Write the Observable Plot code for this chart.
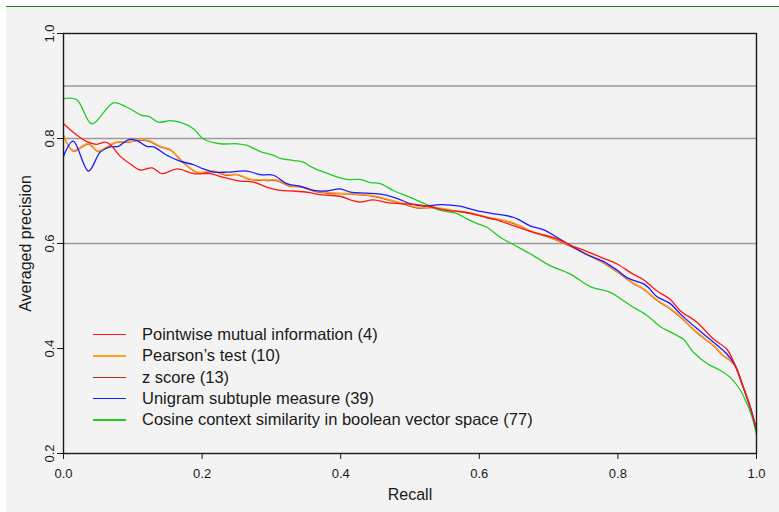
<!DOCTYPE html>
<html>
<head>
<meta charset="utf-8">
<script src="https://cdn.jsdelivr.net/npm/d3@7"></script>
<script src="https://cdn.jsdelivr.net/npm/@observablehq/plot@0.6"></script>
<style>
  html, body { margin: 0; padding: 0; background: #ffffff; }
  #wrap { position: relative; width: 779px; height: 512px; overflow: hidden; font-family: Arial, "Liberation Sans", Helvetica, sans-serif; }
  #bg { position: absolute; left: 6px; top: 6px; right: 0; bottom: 0; background: #f3f3f3; border-top: 1.5px solid #1b7a1b; }
  #chart { position: absolute; left: 0; top: 0; }
  #legend { position: absolute; left: 93px; top: 324px; font-size: 16.5px; color: #1a1a1a; }
  .row { display: flex; align-items: center; height: 21.3px; white-space: nowrap; }
  .sw { width: 33px; height: 1.4px; margin-right: 16px; flex: none; }
</style>
</head>
<body>
<div id="wrap"><div id="bg"></div><div id="chart"></div><div id="legend"></div></div>
<script>
const seriesNames = [
  "Pointwise mutual information (4)",
  "Pearson\u2019s test (10)",
  "z score (13)",
  "Unigram subtuple measure (39)",
  "Cosine context similarity in boolean vector space (77)"
];
const seriesColors = ["#ff1414", "#ffa31a", "#b22a2a", "#1a1aff", "#22cc22"];

const pmiRecall = [0,0.014,0.024,0.034,0.048,0.060,0.067,0.082,0.096,0.111,0.128,0.142,0.164,0.188,0.212,0.231,0.255,0.274,0.294,0.313,0.332,0.356,0.370,0.399,0.419,0.428,0.447,0.467,0.486,0.510,0.529,0.553,0.577,0.601,0.625,0.649,0.674,0.688,0.712,0.731,0.755,0.775,0.799,0.820,0.837,0.856,0.876,0.890,0.914,0.938,0.957,0.967,0.981,0.991,1.0];
const pmiPrecision = [0.828,0.812,0.802,0.794,0.789,0.793,0.789,0.766,0.752,0.740,0.744,0.733,0.742,0.733,0.733,0.726,0.719,0.717,0.707,0.701,0.700,0.697,0.693,0.690,0.681,0.679,0.683,0.678,0.676,0.674,0.670,0.663,0.660,0.653,0.645,0.634,0.623,0.618,0.609,0.597,0.585,0.574,0.561,0.543,0.531,0.510,0.493,0.472,0.450,0.418,0.399,0.375,0.326,0.288,0.245];

const pearsonRecall = [0,0.014,0.029,0.036,0.050,0.063,0.075,0.092,0.113,0.123,0.140,0.154,0.173,0.193,0.217,0.236,0.250,0.269,0.294,0.308,0.327,0.342,0.361,0.380,0.414,0.447,0.471,0.491,0.510,0.534,0.563,0.592,0.611,0.640,0.659,0.674,0.702,0.731,0.755,0.779,0.803,0.822,0.837,0.856,0.876,0.890,0.914,0.938,0.952,0.960,0.969,0.981,0.991,1.0];
const pearsonPrecision = [0.806,0.777,0.787,0.791,0.776,0.784,0.793,0.794,0.798,0.796,0.785,0.779,0.755,0.736,0.738,0.731,0.732,0.723,0.721,0.721,0.710,0.709,0.701,0.697,0.695,0.691,0.683,0.676,0.669,0.669,0.663,0.657,0.650,0.643,0.634,0.624,0.612,0.596,0.580,0.564,0.543,0.525,0.514,0.493,0.476,0.461,0.431,0.406,0.387,0.380,0.368,0.326,0.288,0.244];

const zRecall = [0,0.014,0.029,0.036,0.050,0.063,0.075,0.092,0.113,0.123,0.140,0.154,0.173,0.193,0.217,0.236,0.250,0.269,0.294,0.308,0.327,0.342,0.361,0.380,0.414,0.447,0.471,0.491,0.510,0.534,0.563,0.592,0.611,0.640,0.659,0.674,0.702,0.731,0.755,0.779,0.803,0.822,0.837,0.856,0.876,0.890,0.914,0.938,0.952,0.960,0.969,0.981,0.991,1.0];
const zPrecision = [0.805,0.776,0.786,0.790,0.775,0.783,0.792,0.793,0.797,0.795,0.784,0.778,0.754,0.735,0.737,0.730,0.731,0.722,0.720,0.720,0.709,0.708,0.700,0.696,0.694,0.690,0.682,0.675,0.668,0.668,0.662,0.656,0.649,0.642,0.633,0.623,0.611,0.595,0.579,0.563,0.542,0.524,0.513,0.492,0.475,0.460,0.430,0.405,0.386,0.379,0.367,0.325,0.287,0.244];

const unigramRecall = [0,0.014,0.036,0.053,0.067,0.079,0.094,0.106,0.120,0.130,0.149,0.168,0.188,0.202,0.217,0.236,0.265,0.284,0.303,0.322,0.342,0.361,0.380,0.399,0.414,0.438,0.462,0.481,0.500,0.520,0.544,0.572,0.587,0.601,0.630,0.649,0.659,0.674,0.693,0.712,0.731,0.755,0.779,0.799,0.813,0.827,0.837,0.844,0.856,0.876,0.890,0.914,0.938,0.957,0.969,0.981,0.991,1.0];
const unigramPrecision = [0.766,0.795,0.738,0.774,0.784,0.785,0.798,0.796,0.785,0.784,0.768,0.757,0.750,0.742,0.736,0.736,0.738,0.731,0.730,0.714,0.709,0.701,0.700,0.704,0.698,0.696,0.693,0.686,0.676,0.671,0.674,0.671,0.666,0.661,0.655,0.650,0.644,0.633,0.626,0.612,0.597,0.579,0.566,0.549,0.535,0.528,0.523,0.516,0.499,0.485,0.466,0.438,0.412,0.390,0.368,0.326,0.288,0.245];

const cosineRecall = [0,0.019,0.041,0.072,0.091,0.113,0.123,0.137,0.154,0.168,0.188,0.202,0.226,0.250,0.265,0.284,0.303,0.313,0.332,0.346,0.356,0.380,0.409,0.428,0.443,0.457,0.476,0.500,0.524,0.544,0.568,0.582,0.597,0.611,0.630,0.649,0.674,0.702,0.731,0.760,0.789,0.806,0.818,0.842,0.861,0.885,0.895,0.909,0.928,0.948,0.962,0.977,0.986,0.993,1.0];
const cosinePrecision = [0.876,0.874,0.828,0.868,0.860,0.844,0.842,0.831,0.834,0.831,0.818,0.799,0.790,0.790,0.787,0.775,0.768,0.762,0.758,0.755,0.747,0.734,0.722,0.722,0.716,0.714,0.701,0.688,0.674,0.663,0.657,0.647,0.638,0.631,0.612,0.598,0.580,0.558,0.542,0.518,0.507,0.493,0.482,0.463,0.442,0.425,0.417,0.393,0.372,0.358,0.345,0.320,0.295,0.272,0.236];

const xTicks = [0, 0.2, 0.4, 0.6, 0.8, 1.0];
const yTicks = [0.2, 0.4, 0.6, 0.8, 1.0];
const gridLevels = [0.6, 0.8, 0.9];

const seriesData = [
  [pmiRecall, pmiPrecision],
  [pearsonRecall, pearsonPrecision],
  [zRecall, zPrecision],
  [unigramRecall, unigramPrecision],
  [cosineRecall, cosinePrecision]
];
const rows = seriesData.flatMap(([rs, ps], i) => rs.map((r, j) => ({series: seriesNames[i], recall: r, precision: ps[j]})));
const drawOrder = [2, 1, 4, 3, 0];

const font = 'Arial, "Liberation Sans", Helvetica, sans-serif';
const fmt = d3.format(".1f");

const chart = Plot.plot({
  width: 779,
  height: 512,
  marginLeft: 63,
  marginRight: 23,
  marginTop: 33,
  marginBottom: 59,
  style: {background: "transparent", fontFamily: font, fontSize: "13px", color: "#1a1a1a"},
  x: {domain: [0, 1]},
  y: {domain: [0.2, 1.0]},
  color: {domain: seriesNames, range: seriesColors},
  marks: [
    Plot.ruleY(gridLevels, {stroke: "#9a9a9a", strokeWidth: 1.3}),
    ...drawOrder.map(i => Plot.line(rows.filter(d => d.series === seriesNames[i]), {
      x: "recall", y: "precision", stroke: "series", strokeWidth: i === 1 ? 1.6 : 1.3, curve: "catmull-rom"
    })),
    Plot.frame({stroke: "#1a1a1a", strokeWidth: 1.4}),
    Plot.axisX({ticks: xTicks, tickSize: 6, tickPadding: 9, tickFormat: fmt, fontSize: 13, stroke: "#1a1a1a", label: null}),
    Plot.axisY({ticks: yTicks, tickSize: 6, tickFormat: () => "", stroke: "#1a1a1a", label: null}),
    Plot.text(yTicks, {y: d => d, text: d => fmt(d), frameAnchor: "left", textAnchor: "middle", lineAnchor: "middle", dx: -14, rotate: -90, fontSize: 13, fill: "#1a1a1a"}),
    Plot.text(["Recall"], {frameAnchor: "bottom", textAnchor: "middle", lineAnchor: "middle", dy: 41, fontSize: 16, fill: "#1a1a1a"}),
    Plot.text(["Averaged precision"], {frameAnchor: "left", textAnchor: "middle", lineAnchor: "middle", dx: -38, rotate: -90, fontSize: 16, fill: "#1a1a1a"})
  ]
});
document.getElementById("chart").appendChild(chart);

const legend = document.getElementById("legend");
seriesNames.forEach((name, i) => {
  const row = document.createElement("div");
  row.className = "row";
  const sw = document.createElement("span");
  sw.className = "sw";
  sw.style.background = seriesColors[i];
  const label = document.createElement("span");
  label.textContent = name;
  row.appendChild(sw);
  row.appendChild(label);
  legend.appendChild(row);
});
</script>
</body>
</html>
